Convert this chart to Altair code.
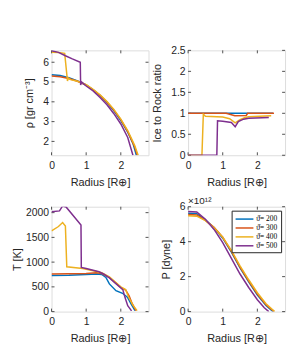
import altair as alt
import pandas as pd

SERIES = ["ϑ̇= 200", "ϑ̇= 300", "ϑ̇= 400", "ϑ̇= 500"]
COLORS = ["#0072BD", "#D95319", "#EDB120", "#7E2F8E"]

X_TICKS = [0, 1, 2]
X_TITLE = "Radius [R⊕]"

# Panel 1: density
R1 = [
    [0, 0.25, 0.5, 0.75, 1.0, 1.2, 1.4, 1.6, 1.8, 2.0, 2.2, 2.35, 2.45],
    [0, 0.25, 0.5, 0.75, 1.0, 1.2, 1.4, 1.6, 1.8, 2.0, 2.2, 2.4, 2.48],
    [0, 0.2, 0.38, 0.46, 0.48, 0.55, 0.75, 1.0, 1.2, 1.4, 1.6, 1.8, 2.0, 2.2, 2.4, 2.5],
    [0, 0.2, 0.4, 0.6, 0.83, 0.84, 0.87, 0.92, 1.0, 1.2, 1.4, 1.6, 1.8, 2.0, 2.2, 2.35],
]
V1 = [
    [5.37, 5.33, 5.22, 5.06, 4.85, 4.6, 4.32, 3.97, 3.55, 3.05, 2.47, 1.9, 1.3],
    [5.30, 5.27, 5.18, 5.04, 4.85, 4.61, 4.33, 3.99, 3.58, 3.1, 2.5, 1.72, 1.3],
    [6.5, 6.49, 6.45, 5.05, 5.2, 5.12, 5.04, 4.87, 4.63, 4.36, 4.02, 3.62, 3.13, 2.55, 1.8, 1.3],
    [6.58, 6.5, 6.33, 6.17, 6.0, 4.85, 5.0, 4.92, 4.8, 4.55, 4.22, 3.85, 3.4, 2.88, 2.2, 1.3],
]
Y1_TICKS = [2, 3, 4, 5, 6]
Y1_TITLE = "ρ [gr cm⁻³]"

# Panel 2: ice to rock ratio
R2 = [
    [0, 1.1, 1.2, 1.7, 1.72, 2.45],
    [0, 1.1, 1.35, 1.68, 1.72, 2.48],
    [0, 0.4, 0.44, 0.5, 1.0, 1.2, 1.36, 1.5, 1.65, 1.75, 2.4],
    [0, 0.83, 0.85, 1.0, 1.25, 1.36, 1.45, 1.6, 1.75, 2.33],
]
V2 = [
    [1.0, 1.0, 1.0, 1.0, 1.0, 1.0],
    [1.0, 1.0, 0.94, 0.95, 1.0, 1.0],
    [0, 0, 0.98, 0.93, 0.91, 0.87, 0.77, 0.85, 0.9, 0.92, 0.94],
    [0, 0, 0.82, 0.81, 0.78, 0.68, 0.8, 0.86, 0.88, 0.9],
]
Y2_TICKS = [0, 0.5, 1, 1.5, 2, 2.5]
Y2_TITLE = "Ice to Rock ratio"

# Panel 3: temperature
R3 = [
    [0, 0.5, 1.0, 1.3, 1.45, 1.57, 1.67, 1.86, 2.05, 2.19, 2.3, 2.41],
    [0, 0.5, 1.0, 1.3, 1.45, 1.67, 1.85, 2.0, 2.14, 2.24, 2.33, 2.44],
    [0, 0.2, 0.32, 0.4, 0.44, 0.9, 1.3, 1.45, 1.67, 1.85, 2.0, 2.14, 2.22, 2.35, 2.47],
    [0, 0.23, 0.32, 0.42, 0.85, 0.86, 1.0, 1.37, 1.5, 1.67, 1.85, 2.0, 2.06, 2.12, 2.2, 2.31],
]
V3 = [
    [730, 735, 748, 758, 752, 690, 560, 423, 370, 290, 150, 20],
    [762, 765, 770, 785, 770, 690, 580, 490, 437, 320, 160, 20],
    [1630, 1720, 1800, 1730, 906, 872, 810, 785, 700, 590, 500, 445, 300, 130, 20],
    [2020, 2035, 2135, 2115, 1750, 892, 870, 805, 760, 680, 570, 480, 440, 288, 120, 15],
]
Y3_TICKS = [0, 500, 1000, 1500, 2000]
Y3_TITLE = "T [K]"

# Panel 4: pressure (units of 1e12 dyne)
R4 = [
    [0, 0.25, 0.5, 0.75, 1.0, 1.25, 1.5, 1.75, 2.0, 2.25, 2.45],
    [0, 0.25, 0.5, 0.75, 1.0, 1.25, 1.5, 1.75, 2.0, 2.25, 2.48],
    [0, 0.25, 0.5, 0.75, 1.0, 1.25, 1.5, 1.75, 2.0, 2.25, 2.5],
    [0, 0.25, 0.5, 0.75, 1.0, 1.25, 1.5, 1.75, 2.0, 2.2, 2.33],
]
V4 = [
    [5.62, 5.6, 5.25, 4.8, 4.2, 3.4, 2.5, 1.7, 0.95, 0.35, 0],
    [5.55, 5.53, 5.22, 4.82, 4.25, 3.45, 2.55, 1.75, 1.0, 0.4, 0],
    [5.48, 5.46, 5.2, 4.8, 4.25, 3.5, 2.62, 1.82, 1.08, 0.45, 0],
    [5.72, 5.7, 5.28, 4.7, 3.95, 3.05, 2.15, 1.38, 0.68, 0.22, 0],
]
Y4_TICKS = [0, 2, 4, 6]
Y4_TITLE = "P [dyne]"
Y4_EXP = "×10¹²"

W, H = 98, 106
AX = "#262626"
FONT = "Liberation Sans"


def frame(rs, vs):
    rows = []
    for s, r, v in zip(SERIES, rs, vs):
        for i, (a, b) in enumerate(zip(r, v)):
            rows.append({"r": a, "v": b, "s": s, "i": i})
    return pd.DataFrame(rows)


def axis(values, fmt, lp, tp):
    return alt.Axis(values=values, format=fmt, ticks=False, tickSize=0,
                    domain=False, grid=False, labelPadding=lp, titlePadding=tp,
                    labelOverlap=False, labelFont=FONT, titleFont=FONT,
                    labelFontSize=10.5, titleFontSize=11, labelColor=AX,
                    titleColor=AX, titleFontWeight="normal", labelFlush=False)


def panel(rs, vs, ydom, yticks, yfmt, ytitle, ytp=8, legend=False, extra=None):
    xs = alt.Scale(domain=[0, 2.8], nice=False, zero=False)
    ys = alt.Scale(domain=ydom, nice=False, zero=False)
    xa = axis(X_TICKS, "~g", 5, 6)
    ya = axis(yticks, yfmt, 3, ytp)
    if legend:
        leg = alt.Legend(orient="top-right", offset=4, title=None,
                         fillColor="white", strokeColor=AX, padding=3,
                         symbolType="M-1,0H3", symbolSize=81, symbolStrokeWidth=1.5,
                         labelFont="Liberation Serif", labelFontSize=7.5,
                         labelColor="#000000", rowPadding=0, labelOffset=11,
                         cornerRadius=0)
    else:
        leg = None
    lines = alt.Chart(frame(rs, vs)).mark_line(strokeWidth=1.5, clip=True).encode(
        x=alt.X("r:Q", scale=xs, title=X_TITLE, axis=xa),
        y=alt.Y("v:Q", scale=ys, title=ytitle, axis=ya),
        color=alt.Color("s:N", scale=alt.Scale(domain=SERIES, range=COLORS), legend=leg),
        order="i:Q",
    )
    xt = pd.DataFrame({"t": X_TICKS})
    yt = pd.DataFrame({"t": yticks})
    tk = dict(color=AX, strokeWidth=0.8)
    xb = alt.Chart(xt).mark_rule(**tk).encode(
        x=alt.X("t:Q", scale=xs, title=X_TITLE, axis=xa), y=alt.value(H), y2=alt.value(H - 3))
    xtp = alt.Chart(xt).mark_rule(**tk).encode(
        x=alt.X("t:Q", scale=xs, title=X_TITLE, axis=xa), y=alt.value(0), y2=alt.value(3))
    yl = alt.Chart(yt).mark_rule(**tk).encode(
        y=alt.Y("t:Q", scale=ys, title=ytitle, axis=ya), x=alt.value(0), x2=alt.value(3))
    yr = alt.Chart(yt).mark_rule(**tk).encode(
        y=alt.Y("t:Q", scale=ys, title=ytitle, axis=ya), x=alt.value(W), x2=alt.value(W - 3))
    layers = [xb, xtp, yl, yr, lines]
    if extra is not None:
        layers.append(extra)
    return alt.layer(*layers).properties(width=W, height=H)


exp_text = alt.Chart(pd.DataFrame({"s": [Y4_EXP]})).mark_text(
    align="left", baseline="bottom", fontSize=10, font=FONT, color=AX
).encode(text="s:N", x=alt.value(0), y=alt.value(-1))

p1 = panel(R1, V1, [1.3, 6.6], Y1_TICKS, "~g", Y1_TITLE)
p2 = panel(R2, V2, [0, 2.5], Y2_TICKS, "~g", Y2_TITLE)
p3 = panel(R3, V3, [0, 2120], Y3_TICKS, "d", Y3_TITLE, ytp=2.5)
p4 = panel(R4, V4, [0, 6], Y4_TICKS, "~g", Y4_TITLE, legend=True, extra=exp_text)

chart = alt.concat(p1, p2, p3, p4, columns=2).properties(
    spacing=alt.RowColnumber(row=52, column=40),
    bounds="flush",
    padding={"left": 3, "top": 35, "right": 5, "bottom": 5},
).resolve_scale(color="independent").configure_view(
    stroke=AX, strokeWidth=1
).configure(background="white")

chart.save("out.html", embed_options={"renderer": "svg", "actions": False})
